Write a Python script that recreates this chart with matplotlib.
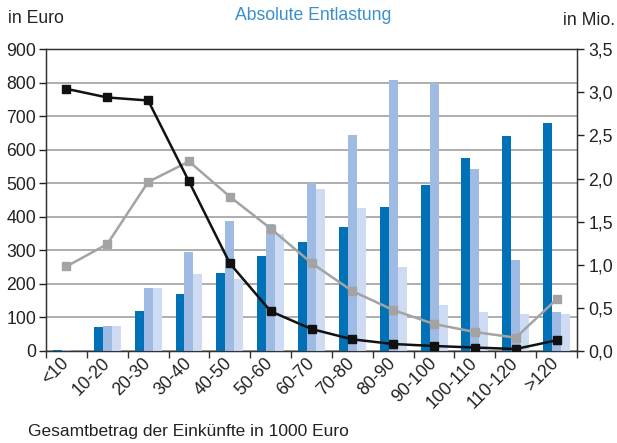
import matplotlib.pyplot as plt
import matplotlib.transforms as mtransforms
import numpy as np

plt.rcParams['font.family'] = ['Liberation Sans', 'DejaVu Sans']

# income classes (in 1000 Euro)
categories = ['<10', '10-20', '20-30', '30-40', '40-50', '50-60', '60-70',
              '70-80', '80-90', '90-100', '100-110', '110-120', '>120']

# absolute relief in Euro (three bar series)
bars_dark = [3, 72, 120, 170, 233, 283, 325, 369, 429, 495, 575, 641, 679]
bars_mid = [2, 75, 188, 296, 388, 380, 500, 645, 807, 800, 542, 271, 116]
bars_light = [1, 75, 188, 230, 215, 348, 482, 426, 250, 137, 116, 110, 110]

# number of taxpayers in Mio. (right axis)
line_black = [3.04, 2.94, 2.905, 1.966, 1.016, 0.46, 0.255, 0.135, 0.081,
              0.058, 0.04, 0.023, 0.124]
line_gray = [0.98, 1.24, 1.96, 2.198, 1.79, 1.42, 1.02, 0.695, 0.475,
             0.313, 0.22, 0.154, 0.60]

fs = 12.7
fig = plt.figure(figsize=(6.17, 4.43), dpi=100)
ax = fig.add_axes([0.0746, 0.2077, 0.8606, 0.6813])

x = np.arange(len(categories))
w = 0.22
ax.bar(x - w, bars_dark, w, color='#0071b7', zorder=3)
ax.bar(x, bars_mid, w, color='#9fbae3', zorder=3)
ax.bar(x + w, bars_light, w, color='#cddbf3', zorder=3)

ax.set_xlim(-0.5, len(categories) - 0.5)
ax.set_ylim(0, 900)
ax.set_yticks(range(0, 901, 100))
ax.yaxis.grid(True, color='#a0a0a0', linewidth=1.2, zorder=0)
ax.set_axisbelow(True)

ax.set_xticks(x)
ax.set_xticklabels(categories, rotation=45, ha='right', va='center',
                   rotation_mode='anchor')
shift = mtransforms.ScaledTranslation(12 / 100, 0, fig.dpi_scale_trans)
for lbl in ax.get_xticklabels():
    lbl.set_transform(lbl.get_transform() + shift)
ax.set_xticks(np.arange(-0.5, len(categories), 1), minor=True)
ax.tick_params(axis='x', which='major', length=0, pad=7, labelsize=fs, colors='#222222')
ax.tick_params(axis='x', which='minor', length=5, width=1, color='#333333')
ax.tick_params(axis='y', length=5, width=1, labelsize=fs, colors='#222222', pad=2)

for s in ['left', 'right', 'top', 'bottom']:
    ax.spines[s].set_color('#333333')
    ax.spines[s].set_linewidth(1.0)

ax2 = ax.twinx()
ax2.set_ylim(0, 3.5)
ax2.set_yticks(np.arange(0, 3.51, 0.5))
ax2.set_yticklabels([f'{v:.1f}'.replace('.', ',') for v in np.arange(0, 3.51, 0.5)])
ax2.tick_params(axis='y', length=5, width=1, labelsize=fs, colors='#222222', pad=3)
for s in ['left', 'right', 'top', 'bottom']:
    ax2.spines[s].set_color('#333333')

ax2.plot(x, line_gray, color='#a3a3a3', linewidth=1.8, marker='s', markersize=5.5, zorder=4)
ax2.plot(x, line_black, color='#111111', linewidth=1.8, marker='s', markersize=5.5, zorder=5)

fig.text(0.013, 0.958, 'in Euro', fontsize=fs, color='#222222', va='center')
fig.text(0.997, 0.953, 'in Mio.', fontsize=fs, color='#222222', va='center', ha='right')
fig.text(0.507, 0.965, 'Absolute Entlastung', fontsize=fs, color='#3a8fd0',
         va='center', ha='center')
fig.text(0.045, 0.025, 'Gesamtbetrag der Einkünfte in 1000 Euro', fontsize=12.5,
         color='#222222', va='center')

fig.savefig('out.png', dpi=100)
